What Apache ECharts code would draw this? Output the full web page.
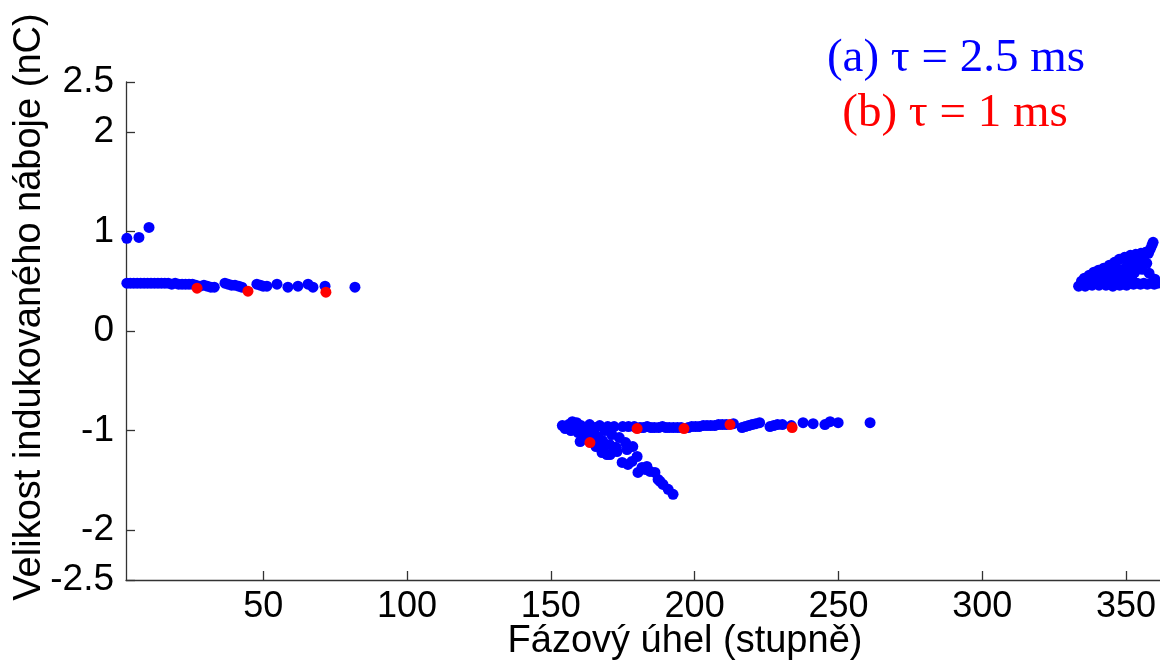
<!DOCTYPE html>
<html>
<head>
<meta charset="utf-8">
<title>Velikost indukovaného náboje</title>
<script src="https://cdn.jsdelivr.net/npm/echarts@6/dist/echarts.min.js"></script>
<style>
  html, body { margin: 0; padding: 0; background: #ffffff; }
  #chart { width: 1160px; height: 661px; }
</style>
</head>
<body>
<div id="chart"></div>
<script>
// Phase angle (degrees) and induced charge (nC) pairs for tau = 2.5 ms
const seriesA = [
  [2.6, 0.93], [6.8, 0.94], [10.3, 1.04],
  [2.6, 0.48], [3.8, 0.48], [5.0, 0.48], [6.2, 0.48], [7.4, 0.48], [8.6, 0.48],
  [9.8, 0.48], [11.0, 0.48], [12.2, 0.48], [13.4, 0.48], [14.6, 0.48], [15.8, 0.48],
  [17.0, 0.48], [18.2, 0.47], [19.4, 0.48], [20.6, 0.47], [21.8, 0.47], [23.0, 0.47],
  [24.2, 0.47], [25.4, 0.47], [26.6, 0.46], [28.0, 0.45], [29.4, 0.46], [30.6, 0.45],
  [31.8, 0.44], [33.0, 0.44], [36.7, 0.48], [37.8, 0.47], [39.0, 0.46], [40.2, 0.46],
  [41.5, 0.45], [42.6, 0.44], [47.8, 0.47], [49.0, 0.46], [50.0, 0.45], [51.3, 0.45],
  [54.8, 0.47], [58.6, 0.44], [62.1, 0.45], [65.6, 0.47], [67.3, 0.44], [71.5, 0.45],
  [81.9, 0.44],
  [154.0, -0.95], [155.0, -0.98], [156.2, -0.94], [157.0, -1.00], [157.5, -0.91],
  [158.0, -0.93], [158.6, -0.97], [159.0, -0.92], [159.5, -1.02], [160.2, -1.11],
  [160.5, -0.95], [161.3, -1.05], [162.0, -0.99], [162.8, -1.08], [163.5, -0.94],
  [164.2, -1.02], [165.0, -1.12], [165.5, -0.97], [165.7, -1.16], [166.3, -1.06],
  [167.0, -0.95], [167.8, -1.22], [168.0, -1.10], [168.1, -1.19], [168.8, -1.00],
  [169.5, -1.24], [169.8, -0.96], [170.5, -1.14], [170.6, -1.24], [171.2, -1.04],
  [172.0, -0.96], [172.3, -1.17], [172.8, -1.17], [173.0, -1.21], [173.8, -1.07],
  [174.8, -1.32], [175.0, -0.96], [176.0, -1.12], [176.5, -1.19], [176.8, -1.34],
  [177.0, -0.96], [178.2, -1.31], [178.5, -1.16], [179.0, -0.96], [180.0, -1.26],
  [180.3, -1.42], [181.0, -0.97], [181.7, -1.37], [182.2, -0.97], [182.8, -1.39],
  [183.4, -1.36], [183.5, -0.96], [184.5, -1.41], [184.8, -0.97], [186.0, -0.97],
  [186.2, -1.42], [187.3, -1.49], [187.5, -0.97], [188.0, -1.51], [188.8, -0.96],
  [189.0, -1.54], [190.0, -0.97], [190.8, -1.59], [191.2, -0.97], [192.5, -1.64],
  [192.6, -0.97], [194.0, -0.97], [195.3, -0.97],
  [197.8, -0.97], [199.0, -0.96], [200.3, -0.96], [201.6, -0.96], [203.0, -0.95],
  [204.3, -0.95], [205.6, -0.95], [207.0, -0.95], [208.3, -0.94], [209.6, -0.94],
  [211.0, -0.94], [213.5, -0.93], [216.5, -0.97], [217.6, -0.96], [218.8, -0.95],
  [220.0, -0.94], [221.3, -0.93], [222.6, -0.92], [226.2, -0.96], [227.5, -0.95],
  [228.8, -0.94], [230.5, -0.94], [233.6, -0.95], [237.7, -0.92], [241.2, -0.93],
  [245.3, -0.94], [247.1, -0.91], [249.9, -0.92], [261.0, -0.92],
  [333.5, 0.45], [334.6, 0.47], [335.8, 0.45], [337.0, 0.47], [338.2, 0.46],
  [339.4, 0.48], [340.6, 0.46], [341.8, 0.48], [343.0, 0.46], [344.2, 0.47],
  [345.4, 0.45], [346.6, 0.47], [347.8, 0.46], [349.0, 0.47], [350.2, 0.46],
  [351.4, 0.48], [352.6, 0.47], [353.8, 0.48], [355.0, 0.47], [356.2, 0.48],
  [357.4, 0.47], [358.6, 0.48], [359.8, 0.47], [361.0, 0.48],
  [334.5, 0.50], [335.5, 0.53], [336.5, 0.51], [337.2, 0.56], [338.0, 0.53],
  [338.8, 0.59], [339.6, 0.55], [340.4, 0.61], [341.0, 0.52], [341.6, 0.57],
  [342.2, 0.63], [343.0, 0.59], [343.6, 0.54], [344.2, 0.66], [344.8, 0.61],
  [345.5, 0.56], [346.0, 0.69], [346.5, 0.64], [347.0, 0.59], [347.6, 0.72],
  [348.0, 0.52], [349.0, 0.62], [349.5, 0.74], [350.0, 0.56], [350.5, 0.69],
  [351.0, 0.64], [351.5, 0.76], [352.0, 0.52], [352.4, 0.71], [353.0, 0.59],
  [353.4, 0.77], [354.0, 0.66], [354.6, 0.73], [355.2, 0.78], [355.6, 0.62],
  [356.2, 0.75], [356.8, 0.79], [357.2, 0.68], [357.8, 0.78], [358.0, 0.58],
  [358.4, 0.82], [359.0, 0.86], [359.4, 0.89], [360.0, 0.52]
];

// Phase angle (degrees) and induced charge (nC) pairs for tau = 1 ms
const seriesB = [
  [27.0, 0.43], [44.7, 0.40], [71.8, 0.39],
  [163.6, -1.12], [180.0, -0.98], [196.3, -0.98], [212.3, -0.94], [233.9, -0.97]
];

const xTicks = [50, 100, 150, 200, 250, 300, 350];
const yTicks = [-2.5, -2, -1, 0, 1, 2, 2.5];

const nameA = '(a) τ = 2.5 ms';
const nameB = '(b) τ = 1 ms';
const xTitle = 'Fázový úhel (stupně)';
const yTitle = 'Velikost indukovaného náboje (nC)';

const chart = echarts.init(document.getElementById('chart'), null, { renderer: 'canvas' });

const axisColor = '#333333';
const sansFont = '"Liberation Sans", Arial, sans-serif';
const serifFont = '"Liberation Serif", "Times New Roman", serif';

chart.setOption({
  animation: false,
  backgroundColor: '#ffffff',
  grid: { left: 126, right: 0, top: 82, bottom: 81, containLabel: false },
  xAxis: {
    type: 'value',
    min: 2.3,
    max: 361.8,
    splitLine: { show: false },
    axisLine: { show: true, onZero: false, lineStyle: { color: axisColor, width: 1.3 } },
    axisTick: { show: true, inside: true, length: 9, customValues: xTicks, lineStyle: { color: axisColor, width: 1.3 } },
    axisLabel: { customValues: xTicks, margin: 9, fontFamily: sansFont, fontSize: 36, color: '#000' }
  },
  yAxis: {
    type: 'value',
    min: -2.5,
    max: 2.5,
    splitLine: { show: false },
    axisLine: { show: true, onZero: false, lineStyle: { color: axisColor, width: 1.3 } },
    axisTick: { show: true, inside: true, length: 9, customValues: yTicks, lineStyle: { color: axisColor, width: 1.3 } },
    axisLabel: { customValues: yTicks, margin: 12, fontFamily: sansFont, fontSize: 37, color: '#000',
      formatter: v => String(v) }
  },
  series: [
    {
      name: nameA, type: 'scatter', data: seriesA, symbolSize: 11, clip: false,
      itemStyle: { color: '#0000ff', opacity: 1 }
    },
    {
      name: nameB, type: 'scatter', data: seriesB, symbolSize: 11, clip: false,
      itemStyle: { color: '#ff0000', opacity: 1 }
    }
  ],
  graphic: [
    {
      type: 'text', x: 685, y: 661,
      style: { text: xTitle, fontFamily: sansFont, fontSize: 38, fill: '#000',
        textAlign: 'center', textVerticalAlign: 'bottom' }
    },
    {
      type: 'text', x: 30, y: 307, rotation: Math.PI / 2,
      style: { text: yTitle, fontFamily: sansFont, fontSize: 38, fill: '#000',
        textAlign: 'center', textVerticalAlign: 'middle' }
    },
    {
      type: 'text', x: 956, y: 82,
      style: { text: nameA, fontFamily: serifFont, fontSize: 47, fill: '#0000ff',
        textAlign: 'center', textVerticalAlign: 'bottom' }
    },
    {
      type: 'text', x: 955, y: 137,
      style: { text: nameB, fontFamily: serifFont, fontSize: 47, fill: '#ff0000',
        textAlign: 'center', textVerticalAlign: 'bottom' }
    }
  ]
});
</script>
</body>
</html>
